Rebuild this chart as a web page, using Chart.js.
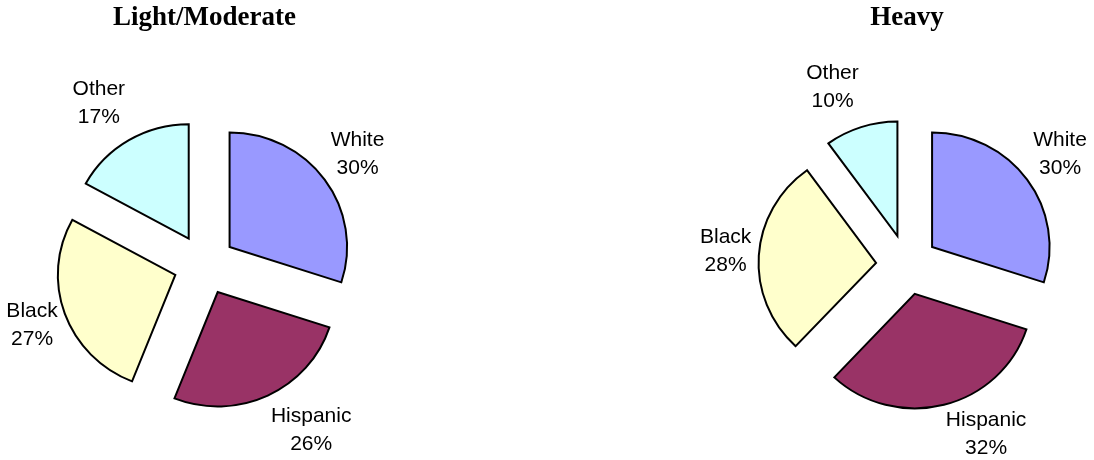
<!DOCTYPE html>
<html>
<head>
<meta charset="utf-8">
<script src="https://cdn.jsdelivr.net/npm/chart.js@4.4.0/dist/chart.umd.min.js"></script>
<style>
  html,body{margin:0;padding:0;background:#fff;}
  #wrap{position:relative;width:1094px;height:460px;}
  .box{position:absolute;top:0;width:547px;height:460px;}
  #left{left:0;}
  #right{left:547px;}
</style>
</head>
<body>
<div id="wrap">
  <div class="box" id="left"><canvas id="chLight"></canvas></div>
  <div class="box" id="right"><canvas id="chHeavy"></canvas></div>
</div>
<script>
// share of each group, in percent
const groups = ["White", "Hispanic", "Black", "Other"];
const lightModerate = [30, 26, 27, 17];
const heavy = [30, 32, 28, 10];
const sliceColors = ["#9999FF", "#993366", "#FFFFCC", "#CCFFFF"];

const EXPLODE = 31;     // how far each slice is pulled out
const SQUASH = 0.974;   // pies are drawn a touch flatter than round
const LABEL_GAP = 125;  // from the slice tip to the label box
const LINE = 28;

// pull every slice outward along its middle angle
const explode = {
  id: 'explode',
  afterDatasetUpdate(chart, args){
    for(const arc of args.meta.data){
      const mid = (arc.startAngle + arc.endAngle) / 2;
      arc.x += Math.cos(mid) * EXPLODE;
      arc.y += Math.sin(mid) * EXPLODE;
    }
  }
};

function midY(chart){
  return (chart.chartArea.top + chart.chartArea.bottom) / 2;
}

// flatten the slices vertically around the pie centre
const squash = {
  id: 'squash',
  beforeDatasetsDraw(chart){
    const ctx = chart.ctx, cy = midY(chart);
    ctx.save();
    ctx.translate(0, cy);
    ctx.scale(1, SQUASH);
    ctx.translate(0, -cy);
  },
  afterDatasetsDraw(chart){
    chart.ctx.restore();
  }
};

// "Name / nn%" outside each slice, kept inside the canvas
const sliceLabels = {
  id: 'sliceLabels',
  afterDatasetsDraw(chart){
    const ctx = chart.ctx;
    const meta = chart.getDatasetMeta(0);
    const data = chart.data.datasets[0].data;
    const total = data.reduce((a, b) => a + b, 0);
    const cy0 = midY(chart);
    const maxY = chart.height - LINE / 2 - 12;
    ctx.save();
    ctx.font = '21px "Liberation Sans", Arial, sans-serif';
    ctx.fillStyle = '#000';
    ctx.textAlign = 'center';
    ctx.textBaseline = 'middle';
    meta.data.forEach((arc, i) => {
      const mid = (arc.startAngle + arc.endAngle) / 2;
      const dx = Math.cos(mid), dy = Math.sin(mid);
      const px = arc.x + dx * LABEL_GAP;
      const py = cy0 + (arc.y + dy * LABEL_GAP - cy0) * SQUASH;
      const lines = [chart.data.labels[i], Math.round(data[i] / total * 100) + '%'];
      const w = Math.max(...lines.map(t => ctx.measureText(t).width));
      const cx = dx >= 0 ? px + w / 2 : px - w / 2;
      const cy = Math.min(py + dy * 33 - 2, maxY);
      ctx.fillText(lines[0], cx, cy - LINE / 2);
      ctx.fillText(lines[1], cx, cy + LINE / 2);
    });
    ctx.restore();
  }
};

function pie(id, title, data, padLeft, padRight){
  return new Chart(document.getElementById(id), {
    type: 'pie',
    data: {
      labels: groups,
      datasets: [{
        data,
        backgroundColor: sliceColors,
        borderColor: '#000',
        borderWidth: 2,
        borderJoinStyle: 'miter',
        radius: 117.5
      }]
    },
    options: {
      responsive: true,
      maintainAspectRatio: false,
      animation: false,
      events: [],
      layout: { padding: { left: padLeft, right: padRight, top: 0, bottom: 5 } },
      plugins: {
        legend: { display: false },
        tooltip: { enabled: false },
        title: {
          display: true,
          text: title,
          color: '#000',
          font: { family: '"Liberation Serif", "Times New Roman", serif', size: 27, weight: 'bold' },
          padding: { top: 2, bottom: 40 }
        }
      }
    },
    plugins: [explode, squash, sliceLabels]
  });
}

pie('chLight', 'Light/Moderate', lightModerate, 0, 138);
pie('chHeavy', 'Heavy', heavy, 173, 0);
</script>
</body>
</html>
